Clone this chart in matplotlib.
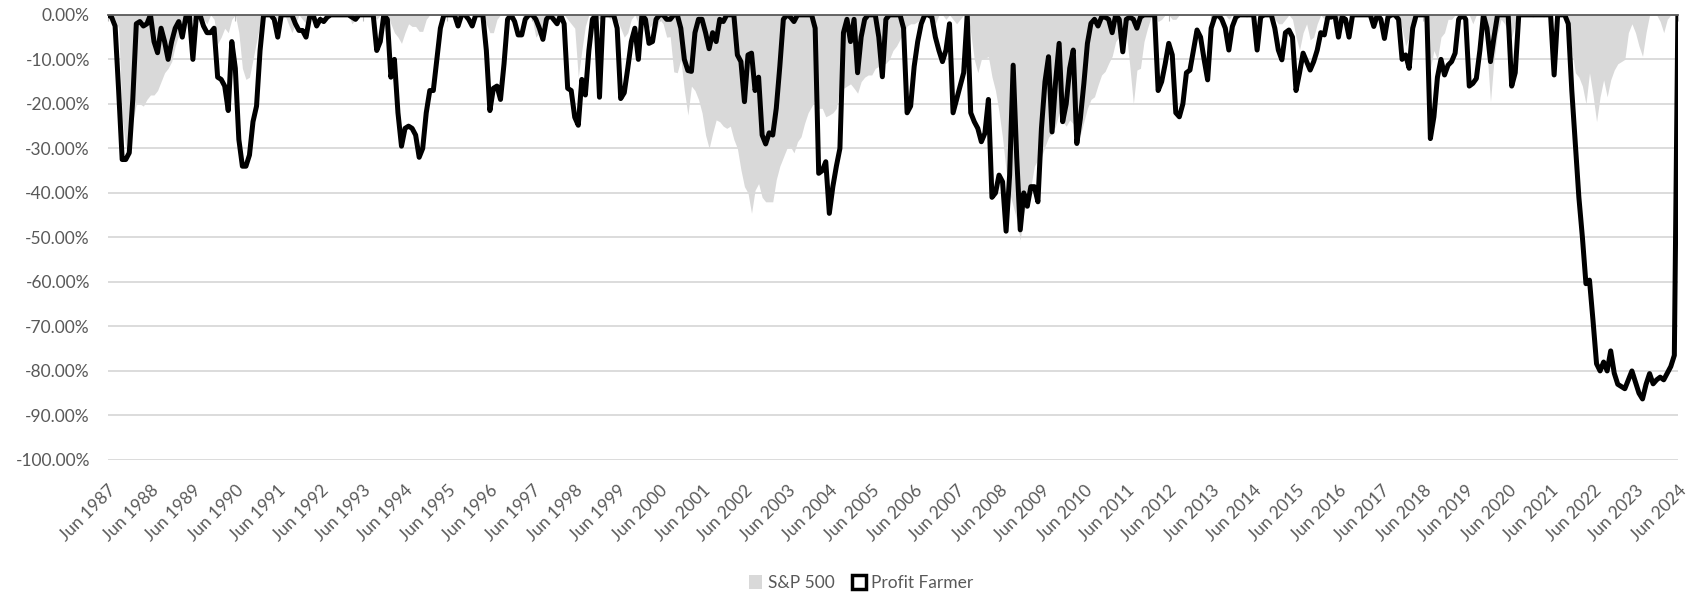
import numpy as np
import matplotlib.pyplot as plt
from matplotlib.patches import Patch

# Monthly drawdowns (%), one row per year from June to May; last row is Jun 2024
profit_farmer = [
    [0, -0.5, -2.5, -17, -32.5, -32.5, -31, -19, -2, -1.5, -2.5, -2],          # 1987
    [0, -6, -8.5, -3, -6, -10, -6, -3, -1.5, -5, -0.5, 0],                     # 1988
    [-10, 0, 0, -2.5, -4, -4, -3, -14, -14.5, -16, -21.5, -6],                 # 1989
    [-12, -28, -34, -34, -31.5, -24, -20.5, -8, 0, 0, 0, -1],                  # 1990
    [-5, 0, 0, 0, 0, -2, -3.5, -3.5, -5, -0.5, 0, -2.5],                       # 1991
    [-1, -1.5, -0.5, 0, 0, 0, 0, 0, 0, -0.5, -1, 0],                           # 1992
    [0, 0, 0, 0, -8, -6, 0, -1, -14, -10, -22, -29.5],                         # 1993
    [-25.5, -25, -25.5, -27, -32, -30, -22, -17, -17, -10, -3, 0],             # 1994
    [0, 0, 0, -2.5, 0, 0, -1, -2.5, 0, 0, 0, -8],                              # 1995
    [-21.5, -16.5, -16, -19, -11, -1, 0, -1.5, -4.5, -4.5, -1, 0],             # 1996
    [0, -1, -3, -5.5, -1, 0, -1, -2, 0, -2, -16.5, -17],                       # 1997
    [-23, -24.8, -14.5, -18, -8, -1, 0, -18.5, 0, 0, 0, 0],                    # 1998
    [-3, -18.8, -17.5, -12, -6, -3, -10, 0, -1, -6.4, -6, -1],                 # 1999
    [0, 0, -1, -1, 0, 0, -3, -10, -12.5, -12.7, -4, -1],                       # 2000
    [-1, -4, -7.6, -4, -6, -1, -1.5, 0, 0, 0, -9, -10.5],                      # 2001
    [-19.5, -9, -8.6, -17, -14, -27, -29, -26.5, -27, -21, -11.6, -1],         # 2002
    [0, -0.5, -1.5, 0, 0, 0, 0, 0, -3, -35.6, -35, -33],                       # 2003
    [-44.6, -38.6, -34, -30, -4, -1, -6, -1, -13, -5, -1, 0],                  # 2004
    [0, 0, -5, -13.9, -1, 0, 0, 0, 0, -3, -22, -20.5],                         # 2005
    [-11.6, -6, -2, 0, 0, -0.5, -5, -8, -10.5, -7.9, -2, -22],                 # 2006
    [-19, -16, -13, 0, -22, -24, -25.5, -28.5, -26.6, -19, -41, -40],          # 2007
    [-36, -37.5, -48.6, -36, -11.3, -31.9, -48.3, -40, -43, -38.6, -38.6, -42],# 2008
    [-25.5, -15, -9.4, -26.3, -15, -6.4, -24, -20, -12, -7.9, -28.9, -23.3],   # 2009
    [-15.4, -6.4, -1.9, -1, -2.5, -0.5, -0.5, -1, -4, 0, -1, -8.3],            # 2010
    [-1, -0.5, -1, -3, -0.5, 0, 0, 0, 0, -17, -15, -11],                       # 2011
    [-6.4, -9, -22, -22.9, -20, -13, -12.4, -7.9, -3.4, -5, -10, -14.6],       # 2012
    [-3, -0.5, 0, -1, -3, -7.9, -2.6, -0.5, 0, 0, 0, 0],                       # 2013
    [0, -7.9, -0.5, 0, 0, 0, -3, -7.9, -10.1, -4, -3.4, -5],                   # 2014
    [-17, -13, -8.6, -10.5, -12.4, -10.5, -7.9, -4, -4.5, -0.5, -0.5, 0],      # 2015
    [-5, -0.5, -1, -5, 0, 0, 0, 0, 0, 0, -2.6, 0],                             # 2016
    [-1, -5.3, -0.5, 0, 0, -1, -10, -9, -12, -3, 0, 0],                        # 2017
    [0, 0, -27.8, -22.9, -14, -10, -13.5, -11.3, -10.5, -8.6, -1, 0],          # 2018
    [-1, -16, -15.4, -14.3, -8, 0, -3, -10.5, -5, 0, 0, 0],                    # 2019
    [0, -16, -13, 0, 0, 0, 0, 0, 0, 0, 0, 0],                                  # 2020
    [0, -13.5, 0, 0, 0, -2, -17, -29, -41, -50, -60.4, -59.6],                 # 2021
    [-68.7, -78.4, -80, -78, -80, -75.5, -80.5, -83, -83.5, -84, -82, -80],    # 2022
    [-82.5, -85, -86.3, -83, -80.6, -82.9, -82, -81.4, -82, -80.5, -79, -76.5],# 2023
    [0],                                                                        # 2024
]

sp500 = [
    [0, 0, -1, -3, -23, -30, -26, -24, -20, -20, -20.5, -19],                  # 1987
    [-18, -18, -17, -15, -13, -12, -10.5, -7, -4.5, -2.5, -1, -0.5],           # 1988
    [-1, 0, 0, -1, -2, 0, -1, -6.5, -5, -3, -4, -1],                           # 1989
    [0, -4, -12, -14.5, -14, -10, -6, -2, 0, 0, 0, 0],                         # 1990
    [-1, 0, 0, -2, -4, -2, 0, -1, -2, -1, 0, 0],                               # 1991
    [0, 0, 0, 0, 0, 0, 0, 0, 0, -2, -1, 0],                                    # 1992
    [0, 0, 0, 0, -1, 0, 0, 0, -2, -4, -5, -6.4],                               # 1993
    [-4, -2, -2.6, -2.6, -3.7, -3.7, -1, 0, 0, 0, 0, 0],                       # 1994
    [0, 0, 0, -1, 0, 0, 0, 0, 0, 0, 0, -2],                                    # 1995
    [-4, -4, -1, 0, 0, 0, 0, 0, 0, 0, -1, 0],                                  # 1996
    [-1, -5, -4, -2, 0, 0, -1, 0, 0, 0, -1, -2],                               # 1997
    [-3, -14, -8, -2.5, 0, 0, 0, -1, 0, 0, -1, 0],                             # 1998
    [-1, -3, -5, -4, -1, 0, -2, 0, -2, -3, -2, -4],                            # 1999
    [-1, -2, -5, -4.9, -12.8, -13, -10, -17, -22.5, -16, -17, -19],            # 2000
    [-22, -27, -30, -26.6, -23.6, -24, -25, -25.5, -25, -28, -30, -34.8],      # 2001
    [-38.6, -40, -44.6, -39.4, -37.9, -41, -42, -42, -42, -37, -34, -32],      # 2002
    [-30, -29.6, -31, -28.5, -27.4, -24.4, -22, -20.6, -19, -21, -21, -22.9],  # 2003
    [-22.5, -22, -21, -16, -16.5, -16, -15.5, -16.5, -17.6, -15, -14, -13.5],  # 2004
    [-13.5, -12, -11.6, -11, -10.9, -10, -8, -7, -5.5, -4, -2.5, -2],          # 2005
    [-2, -1.5, -1, 0, 0, 0, -2, 0, 0, -1, 0, -1],                              # 2006
    [-2, -1, 0, 0, -4, -10, -13, -10, -9.7, -9.4, -13.9, -17],                 # 2007
    [-21.8, -27.7, -35, -40, -43, -46, -50.6, -44.6, -41.5, -38.6, -34, -32.5],# 2008
    [-31.9, -29.6, -27.5, -26.6, -25, -22, -24, -25, -23.6, -24.5, -25, -27],  # 2009
    [-24, -21, -19, -18.4, -15.8, -13.5, -12.7, -10.9, -9.3, -6, -4.9, -4.5],  # 2010
    [-4, -11.6, -20, -12.4, -12, -6, -3, -0.5, 0, -1.5, -1, 0],                # 2011
    [0, -1, -1, 0, 0, 0, 0, 0, 0, 0, 0, 0],                                    # 2012
    [0, 0, 0, 0, 0, -1, 0, 0, 0, 0, -0.5, 0],                                  # 2013
    [0, 0, 0, 0, 0, 0, -1, -2, -2, -1, 0, -1],                                 # 2014
    [-5, -7.9, -4, -2, -5.6, -5, -2, 0, -1, 0, 0, 0],                          # 2015
    [0, 0, 0, 0, 0, 0, 0, 0, 0, -1, -1, 0],                                    # 2016
    [0, 0, 0, 0, 0, 0, -3, -7, -5, -2, 0, 0],                                  # 2017
    [0, -5, -12, -8, -10, -5, -4, -1, -1, 0, 0, 0],                            # 2018
    [0, 0, -2, 0, 0, 0, -8, -19.5, -10, -4, -1, -2],                           # 2019
    [-4, -5, -2, 0, 0, 0, 0, -0.5, 0, 0, -0.5, 0],                             # 2020
    [0, 0, 0, 0, 0, -3, -7.9, -13, -14, -16, -20, -13],                        # 2021
    [-18, -24, -18.4, -14.6, -18.4, -14.6, -12.4, -11, -10.5, -10, -4, -2],    # 2022
    [-4, -7, -9.3, -4, 0, 0, 0, -1.5, -4, -1, 0, 0],                           # 2023
    [0],                                                                        # 2024
]

years = list(range(1987, 2025))
tick_labels = [f"Jun {y}" for y in years]

pf = np.concatenate([np.array(r, dtype=float) for r in profit_farmer])
sp = np.concatenate([np.array(r, dtype=float) for r in sp500])
months = np.arange(len(pf))

text_col = '#595959'
plt.rcParams['font.family'] = ['Lato', 'DejaVu Sans']

fig = plt.figure(figsize=(16.88, 5.95), dpi=100)
ax = fig.add_axes([0.064, 0.227, 0.930, 0.748])

ax.fill_between(months, sp, 0, color='#d9d9d9', linewidth=0, zorder=2)
ax.plot(months, pf, color='black', linewidth=3.6, solid_joinstyle='round', zorder=3)

ax.set_xlim(0, len(pf) - 1)
ax.set_ylim(-100, 0)

yticks = np.arange(0, -101, -10)
ax.set_yticks(yticks)
ax.set_yticklabels([f"{v:.2f}%" for v in yticks], color=text_col, fontsize=12.5)
ax.yaxis.grid(True, color='#d9d9d9', linewidth=1.3, zorder=0)
ax.set_axisbelow(True)
ax.tick_params(axis='y', length=0, pad=13)

ax.set_xticks(months[::12])
ax.set_xticklabels(tick_labels, rotation=45, ha='right', va='top',
                   rotation_mode='anchor', color=text_col, fontsize=12.5)
ax.tick_params(axis='x', top=True, bottom=False, labeltop=False, labelbottom=True,
               direction='in', length=4, color='#bfbfbf', pad=16)

for side in ['left', 'right', 'bottom']:
    ax.spines[side].set_visible(False)
ax.spines['top'].set_color('#595959')
ax.spines['top'].set_linewidth(1.3)
ax.spines['top'].set_zorder(4)

handles = [Patch(facecolor='#d9d9d9', edgecolor='none', label='S&P 500'),
           Patch(facecolor='white', edgecolor='black', linewidth=2.5, label='Profit Farmer')]
fig.legend(handles=handles, loc='center', bbox_to_anchor=(0.51, 0.02), ncol=2,
           frameon=False, fontsize=12.5, labelcolor=text_col,
           handlelength=0.8, handleheight=0.8, handletextpad=0.3, columnspacing=1.0)

fig.savefig('out.png', dpi=100, facecolor='white')
plt.close(fig)
